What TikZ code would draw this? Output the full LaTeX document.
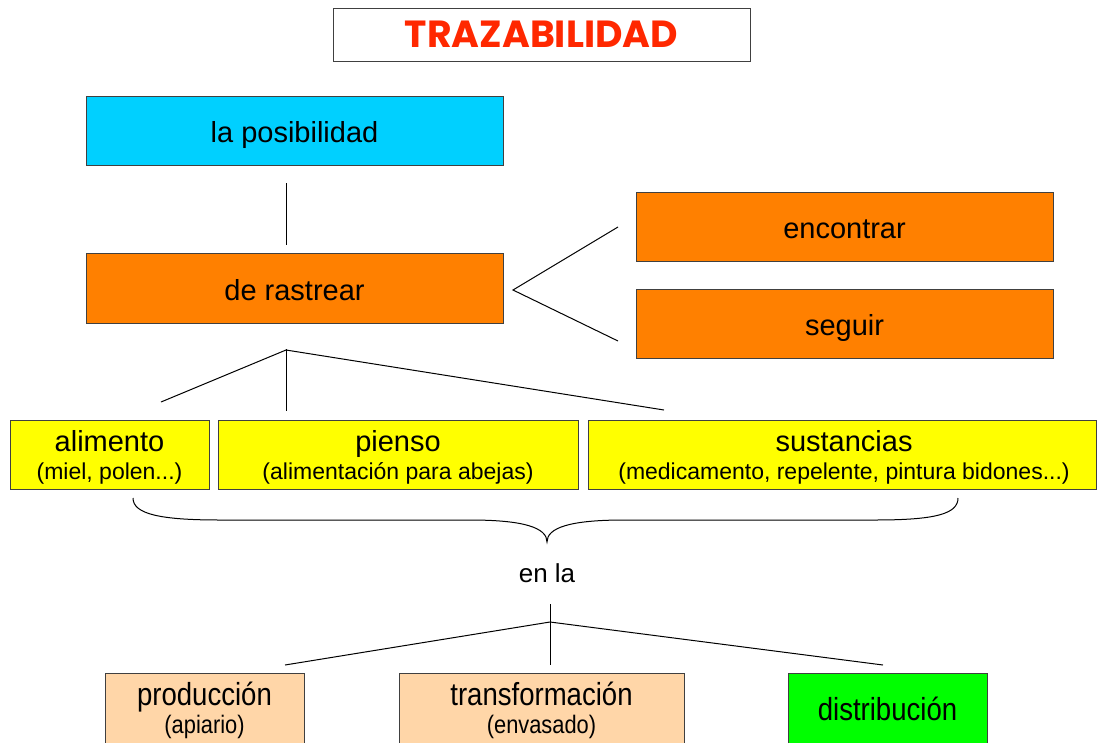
\documentclass[tikz,border=0pt]{standalone}
\usepackage{fontspec}
\setmainfont{Liberation Sans}
\newfontfamily\titlefont{Poppins}
\definecolor{cyanbox}{RGB}{0,208,255}
\definecolor{orangebox}{RGB}{255,128,0}
\definecolor{yellowbox}{RGB}{255,255,0}
\definecolor{peachbox}{RGB}{255,214,168}
\definecolor{greenbox}{RGB}{0,255,0}
\definecolor{edgegray}{RGB}{64,64,64}
\definecolor{titlered}{RGB}{255,40,0}
\begin{document}
\begin{tikzpicture}[x=1pt,y=-1pt,
  box/.style={draw=edgegray,line width=1pt,rectangle,inner sep=0pt,align=center},
  big/.style={font=\fontsize{29}{33}\selectfont,inner sep=0pt,text height=26.2pt,text depth=6.1pt},
  sub/.style={font=\fontsize{23}{27}\selectfont,inner sep=0pt,text height=20.8pt,text depth=4.9pt},
  conn/.style={line width=1pt,black}]
\useasboundingbox (0,0) rectangle (1097,742);
% title
\node[box,fill=white,minimum width=417pt,minimum height=53pt] (title) at (541.5,34.5)
  {\resizebox{273pt}{!}{\titlefont\bfseries\color{titlered}TRAZABILIDAD}};
% top boxes
\node[box,fill=cyanbox,minimum width=417pt,minimum height=69pt] (pos) at (294.5,130.5) {};
\node[box,fill=orangebox,minimum width=417pt,minimum height=70pt] (ras) at (294.5,288) {};
\node[box,fill=orangebox,minimum width=417pt,minimum height=69pt] (enc) at (844.5,226.5) {};
\node[box,fill=orangebox,minimum width=417pt,minimum height=69pt] (seg) at (844.5,323.5) {};
\node[big] (post) at (294.5,132.5) {la posibilidad};
\node[big] (rast) at (294.5,290) {de rastrear};
\node[big] (enct) at (844.5,228.5) {encontrar};
\node[big] (segt) at (844.5,325.5) {seguir};
% yellow boxes
\node[box,fill=yellowbox,minimum width=199pt,minimum height=69pt] (ali) at (109.5,454.5) {};
\node[box,fill=yellowbox,minimum width=360pt,minimum height=69pt] (pie) at (398,454.5) {};
\node[box,fill=yellowbox,minimum width=508pt,minimum height=69pt] (sus) at (842,454.5) {};
\node[big] (alit) at (109.5,441) {alimento};
\node[sub] (alis) at (109.5,472) {(miel, polen...)};
\node[big] (piet) at (398,441) {pienso};
\node[sub] (pies) at (398,472) {(alimentación para abejas)};
\node[big] (sust) at (844,441) {sustancias};
\node[sub] (suss) at (844,472) {(medicamento, repelente, pintura bidones...)};
% en la
\node[font=\fontsize{26}{30}\selectfont,inner sep=0pt,text height=23.5pt,text depth=5.5pt] (enla) at (547,573) {en la};
% bottom boxes
\node[box,fill=peachbox,minimum width=199pt,minimum height=74pt] (prod) at (204.5,710) {};
\node[box,fill=peachbox,minimum width=285pt,minimum height=74pt] (trans) at (541.5,710) {};
\node[box,fill=greenbox,minimum width=199pt,minimum height=74pt] (dist) at (887.5,710) {};
\node[big] (prodt) at (204.5,695) {\scalebox{0.95}[1.1]{producción}};
\node[sub] (prods) at (204.5,726) {\scalebox{0.95}[1.1]{(apiario)}};
\node[big] (transt) at (541.5,695) {\scalebox{0.95}[1.1]{transformación}};
\node[sub] (transs) at (541.5,726) {\scalebox{0.95}[1.1]{(envasado)}};
\node[big] (distt) at (887.5,710) {\scalebox{0.95}[1.1]{distribución}};
% connector coordinates
\coordinate (c1a) at (286,183);
\coordinate (c1b) at (286,245);
\coordinate (fork) at (513,290);
\coordinate (forkU) at (618,227);
\coordinate (forkD) at (618,341);
\coordinate (t3top) at (286,349);
\coordinate (t3apex) at (286,350);
\coordinate (t3mid) at (286,411);
\coordinate (t3L) at (161,402);
\coordinate (t3R) at (664,410);
\coordinate (b3top) at (550,604);
\coordinate (b3apex) at (550,622);
\coordinate (b3mid) at (550,665);
\coordinate (b3L) at (285,665);
\coordinate (b3R) at (883,665);
% connectors
\draw[conn] (c1a) -- (c1b);
\draw[conn] (forkU) -- (fork) -- (forkD);
\draw[conn] (t3top) -- (t3mid);
\draw[conn] (t3L) -- (t3apex) -- (t3R);
\draw[conn] (b3top) -- (b3mid);
\draw[conn] (b3L) -- (b3apex) -- (b3R);
% brace
\draw[conn] (133,498) .. controls (133,514) and (160,520) .. (220,520) -- (470,520)
  .. controls (525,520) and (547,528) .. (547,542)
  .. controls (547,528) and (569,520) .. (624,520) -- (875,520)
  .. controls (935,520) and (958,514) .. (958,498);
\end{tikzpicture}
\end{document}
